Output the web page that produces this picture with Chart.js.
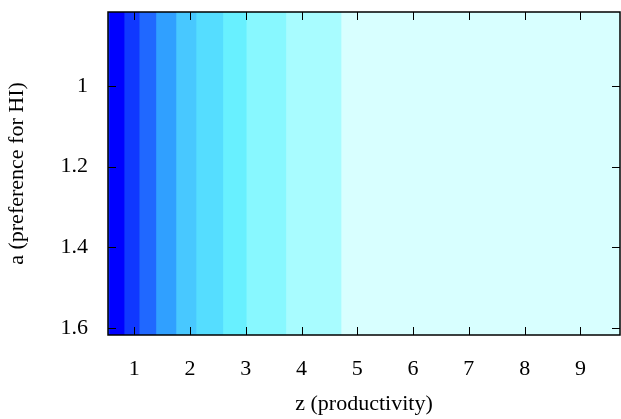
<!DOCTYPE html>
<html lang="en">
<head>
    <meta charset="UTF-8">
    <title>Heatmap z vs a</title>
    <style>
        body {
            margin: 0;
            background: #ffffff;
        }
        .chart-container {
            position: relative;
            width: 621px;
            height: 419px;
        }
    </style>
    <script src="https://cdn.jsdelivr.net/npm/chart.js"></script>
</head>
<body>
    <div class="chart-container">
        <canvas id="heatChart"></canvas>
    </div>

    <script>
        // band edges along z (productivity); the value is the same for every a
        const zEdges = [0.53, 0.56, 0.83, 1.10, 1.40, 1.76, 2.12, 2.60, 3.02, 3.73, 4.72, 9.71];
        const bandColors = ['#1a4cff', '#0000ff', '#1038ff', '#2068ff', '#30a0ff', '#48c8ff',
                            '#55ddff', '#68f0ff', '#88f8ff', '#a8fcff', '#d8ffff'];
        const aRange = [0.816, 1.618];
        const xTicks = [1, 2, 3, 4, 5, 6, 7, 8, 9];
        const yTicks = [1, 1.2, 1.4, 1.6];

        const FONT = 'Liberation Serif';
        const zMax = zEdges[zEdges.length - 1];

        // each band runs from its own edge to the right end, later bands lie on top
        const datasets = bandColors.map((c, i) => ({
            label: 'band ' + i,
            data: [[zEdges[i], zMax]],
            backgroundColor: c,
            borderWidth: 0,
            yAxisID: 'yc',
            xAxisID: 'x',
            barPercentage: 1,
            categoryPercentage: 1,
            grouped: false,
            order: bandColors.length - i
        }));

        // gnuplot style frame with inward ticks on all four sides
        const framePlugin = {
            id: 'frame',
            afterDraw(chart) {
                const ctx = chart.ctx;
                const a = chart.chartArea;
                const sx = chart.scales.x;
                const sy = chart.scales.y;
                const len = 8;
                ctx.save();
                ctx.strokeStyle = '#000';
                ctx.lineWidth = 1;
                ctx.beginPath();
                xTicks.forEach(v => {
                    const px = Math.round(sx.getPixelForValue(v)) + 0.5;
                    ctx.moveTo(px, a.bottom); ctx.lineTo(px, a.bottom - len);
                    ctx.moveTo(px, a.top); ctx.lineTo(px, a.top + len);
                });
                yTicks.forEach(v => {
                    const py = Math.round(sy.getPixelForValue(v)) + 0.5;
                    ctx.moveTo(a.left, py); ctx.lineTo(a.left + len, py);
                    ctx.moveTo(a.right, py); ctx.lineTo(a.right - len, py);
                });
                ctx.stroke();
                ctx.lineWidth = 1.5;
                ctx.strokeRect(a.left, a.top, a.right - a.left, a.bottom - a.top);
                ctx.restore();
            }
        };

        new Chart(document.getElementById('heatChart'), {
            type: 'bar',
            data: { labels: ['all a'], datasets: datasets },
            plugins: [framePlugin],
            options: {
                indexAxis: 'y',
                responsive: true,
                maintainAspectRatio: false,
                animation: false,
                layout: { padding: { top: 12, right: 1 } },
                plugins: {
                    legend: { display: false },
                    tooltip: { enabled: false }
                },
                scales: {
                    x: {
                        type: 'linear',
                        position: 'bottom',
                        bounds: 'data',
                        offset: false,
                        beginAtZero: false,
                        min: zEdges[0],
                        max: zMax,
                        grid: { display: false, drawTicks: false, offset: false },
                        border: { display: false },
                        afterBuildTicks: s => {
                            s.ticks = xTicks.map(v => ({ value: v }));
                            s.min = zEdges[0];
                            s.max = zMax;
                        },
                        afterFit: s => {
                            s.height = 84;
                            s.paddingLeft = 0;
                            s.paddingRight = 0;
                        },
                        ticks: {
                            color: '#000',
                            padding: 21,
                            maxRotation: 0,
                            autoSkip: false,
                            callback: v => String(v),
                            font: { family: FONT, size: 22 }
                        },
                        title: {
                            display: true,
                            text: 'z (productivity)',
                            color: '#000',
                            padding: { top: 0, bottom: 2 },
                            font: { family: FONT, size: 22 }
                        }
                    },
                    y: {
                        type: 'linear',
                        position: 'left',
                        reverse: true,
                        bounds: 'data',
                        offset: false,
                        beginAtZero: false,
                        min: aRange[0],
                        max: aRange[1],
                        grid: { display: false, drawTicks: false, offset: false },
                        border: { display: false },
                        afterBuildTicks: s => {
                            s.ticks = yTicks.map(v => ({ value: v }));
                            s.min = aRange[0];
                            s.max = aRange[1];
                        },
                        afterFit: s => {
                            s.width = 108;
                            s.paddingTop = 0;
                            s.paddingBottom = 0;
                        },
                        ticks: {
                            color: '#000',
                            padding: 20,
                            autoSkip: false,
                            callback: v => String(v),
                            font: { family: FONT, size: 22 }
                        },
                        title: {
                            display: true,
                            text: 'a (preference for HI)',
                            color: '#000',
                            padding: { top: 4, bottom: 0 },
                            font: { family: FONT, size: 22 }
                        }
                    },
                    yc: {
                        type: 'category',
                        display: false,
                        offset: true
                    }
                }
            }
        });
    </script>
</body>
</html>
